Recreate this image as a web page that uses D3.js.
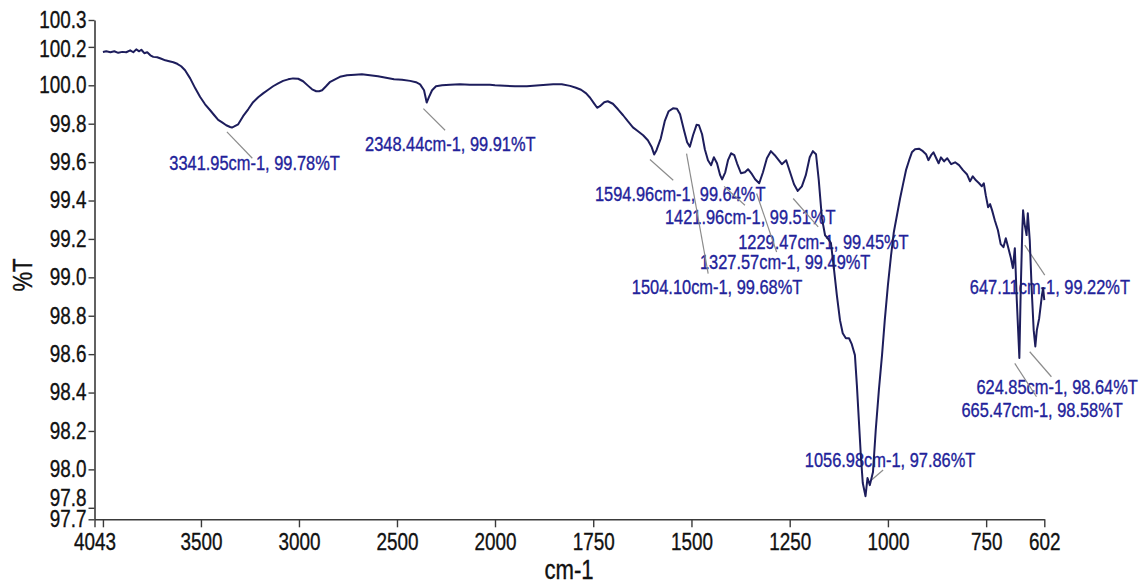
<!DOCTYPE html>
<html>
<head>
<meta charset="utf-8">
<script src="https://cdn.jsdelivr.net/npm/d3@7"></script>
<style>
  html, body { margin: 0; padding: 0; background: #fff; }
  svg { display: block; }
  .narrow { font-family: "Liberation Sans Narrow", "Arial Narrow", "Liberation Sans", Arial, sans-serif; }
</style>
</head>
<body>
<svg id="chart" width="1142" height="583"></svg>
<script>
// FTIR spectrum: wavenumber (cm-1) and transmittance (%T)
const wavenumber = [
  4000, 3983, 3962, 3942, 3922, 3901, 3881, 3861, 3845, 3830, 3815, 3804, 3789, 3774, 3758, 3743,
  3723, 3702, 3682, 3662, 3641, 3621, 3601, 3581, 3555, 3529, 3504, 3479, 3453, 3432, 3412, 3392,
  3371, 3351, 3341.95, 3330, 3310, 3285, 3259, 3234, 3208, 3183, 3157, 3132, 3106, 3081, 3055, 3030,
  3004, 2979, 2953, 2933, 2912, 2897, 2882, 2862, 2843, 2816, 2791, 2755, 2714, 2679, 2638, 2597,
  2556, 2515, 2474, 2433, 2403, 2382, 2362, 2348.44, 2337, 2321, 2301, 2270, 2229, 2179, 2128, 2077,
  2026, 2000, 1975, 1949, 1919, 1886, 1852, 1830, 1809, 1794, 1781, 1768, 1758, 1748, 1740, 1733,
  1722, 1713, 1700, 1687, 1674, 1662, 1649, 1636, 1623, 1611, 1601, 1594.96, 1589, 1578, 1568, 1558,
  1547, 1537, 1529, 1519, 1511, 1504.10, 1496, 1487, 1481, 1473, 1466, 1458, 1450, 1443, 1435, 1427,
  1421.96, 1414, 1407, 1399, 1391, 1384, 1374, 1364, 1356, 1346, 1338, 1327.57, 1318, 1308, 1298, 1288,
  1280, 1270, 1259, 1249, 1239, 1229.47, 1219, 1209, 1199, 1191, 1183, 1176, 1168, 1160, 1153, 1145,
  1137, 1130, 1122, 1115, 1107, 1099, 1092, 1084, 1079, 1074, 1069, 1064, 1056.98, 1052, 1046, 1038,
  1031, 1023, 1015, 1008, 1000, 992, 985, 977, 969, 962, 954, 946, 939, 931, 921, 911,
  903, 897, 890, 884, 877, 871, 865, 857, 849, 839, 829, 819, 809, 799, 791, 784,
  776, 768, 761, 756, 751, 745, 740, 735, 728, 720, 713, 706, 700, 694, 687, 682,
  677, 672, 665.47, 662, 658, 656, 652, 647.11, 644, 639, 634, 629, 624.85, 621, 615, 608,
  605, 602
];
const transmittance = [
  100.173, 100.177, 100.172, 100.177, 100.169, 100.174, 100.172, 100.182, 100.172, 100.187, 100.177, 100.185, 100.167, 100.172, 100.156, 100.148,
  100.146, 100.138, 100.130, 100.125, 100.120, 100.112, 100.099, 100.078, 100.036, 99.984, 99.939, 99.901, 99.870, 99.844, 99.820, 99.807,
  99.792, 99.783, 99.78, 99.786, 99.797, 99.839, 99.875, 99.912, 99.938, 99.958, 99.977, 99.995, 100.010, 100.023, 100.031, 100.036,
  100.034, 100.021, 99.997, 99.979, 99.969, 99.969, 99.974, 99.995, 100.016, 100.031, 100.044, 100.052, 100.055, 100.057, 100.052, 100.047,
  100.039, 100.031, 100.029, 100.023, 100.016, 100.005, 99.974, 99.91, 99.938, 99.974, 99.995, 100.000, 100.003, 100.005, 100.003, 100.003,
  100.003, 100.000, 99.997, 99.995, 99.995, 100.000, 100.005, 100.005, 99.997, 99.987, 99.977, 99.958, 99.935, 99.906, 99.883, 99.891,
  99.912, 99.917, 99.904, 99.875, 99.844, 99.813, 99.781, 99.761, 99.740, 99.714, 99.677, 99.64, 99.662, 99.724, 99.813, 99.865,
  99.880, 99.878, 99.849, 99.766, 99.703, 99.68, 99.740, 99.794, 99.792, 99.745, 99.667, 99.610, 99.584, 99.625, 99.594, 99.532,
  99.51, 99.547, 99.610, 99.646, 99.636, 99.594, 99.542, 99.547, 99.563, 99.537, 99.511, 99.49, 99.547, 99.620, 99.657, 99.636,
  99.615, 99.589, 99.610, 99.547, 99.485, 99.45, 99.474, 99.532, 99.625, 99.657, 99.641, 99.506, 99.308, 99.219, 99.203, 99.178,
  99.037, 98.907, 98.777, 98.709, 98.683, 98.683, 98.652, 98.595, 98.439, 98.257, 98.075, 97.929, 97.86, 97.955, 97.918, 97.986,
  98.205, 98.413, 98.595, 98.777, 98.959, 99.115, 99.235, 99.323, 99.412, 99.480, 99.558, 99.610, 99.651, 99.667, 99.670, 99.657,
  99.641, 99.610, 99.636, 99.651, 99.620, 99.594, 99.625, 99.604, 99.620, 99.589, 99.599, 99.584, 99.558, 99.537, 99.500, 99.526,
  99.505, 99.490, 99.474, 99.490, 99.428, 99.365, 99.381, 99.350, 99.297, 99.245, 99.173, 99.157, 99.204, 99.157, 99.100, 99.048,
  99.152, 98.881, 98.58, 98.933, 99.245, 99.349, 99.276, 99.22, 99.334, 99.193, 98.933, 98.725, 98.64, 98.725, 98.787, 98.907,
  98.944, 98.881
];

// Picked peaks
const peakWavenumber = [3341.95, 2348.44, 1594.96, 1504.10, 1421.96, 1327.57, 1229.47, 1056.98, 665.47, 647.11, 624.85];
const peakTransmittance = [99.78, 99.91, 99.64, 99.68, 99.51, 99.49, 99.45, 97.86, 98.58, 99.22, 98.64];

// Axis ticks
const xTickValues = [4043, 4000, 3500, 3000, 2500, 2000, 1750, 1500, 1250, 1000, 750, 602];
const xTickLabels = ["4043", "", "3500", "3000", "2500", "2000", "1750", "1500", "1250", "1000", "750", "602"];
const yTickValues = [97.74, 97.8, 98.0, 98.2, 98.4, 98.6, 98.8, 99.0, 99.2, 99.4, 99.6, 99.8, 100.0, 100.2, 100.34];

// Label placement relative to each peak: text origin and leader line ends (px)
const peakLabelLayout = [
  { tx: -62.6, ty: 42.7, x1: -5, y1: 4.4, x2: 20.4, y2: 30.7 },
  { tx: -61.6, ty: 48, x1: -3.3, y1: 6, x2: 18.4, y2: 27.7 },
  { tx: -59.2, ty: 46.1, x1: -4.2, y1: 5.1, x2: 19.1, y2: 25.8 },
  { tx: -58, ty: 147, x1: -3.3, y1: 6.8, x2: 18.3, y2: 126.8 },
  { tx: -57.2, ty: 44.6, x1: 2, y1: 7, x2: 22.8, y2: 25.9 },
  { tx: -59.3, ty: 85.7, x1: -2.6, y1: 10.3, x2: 17.4, y2: 68.7 },
  { tx: -59.6, ty: 58, x1: -4.6, y1: 7.6, x2: 20.4, y2: 36 },
  { tx: -60.7, ty: -29.2, x1: 6, y1: -16.2, x2: 17.6, y2: -26.2 },
  { tx: -57.9, ty: 59.1, x1: -4.6, y1: 5.4, x2: 17.1, y2: 38.8 },
  { tx: -56.8, ty: 58.8, x1: -1.8, y1: 10.1, x2: 18.2, y2: 40.1 },
  { tx: -58.9, ty: 47.3, x1: -5.6, y1: 5.3, x2: 16.1, y2: 30.3 }
];

const svg = d3.select("#chart");

// Condensed lettering: squeeze each label to a narrow-face width
const NARROW = 0.82;
function condense(sel, k = NARROW) {
  sel.each(function () {
    const len = this.getComputedTextLength();
    if (len > 0) {
      d3.select(this)
        .attr("textLength", (len * k).toFixed(2))
        .attr("lengthAdjust", "spacingAndGlyphs");
    }
  });
}

// Wavenumber axis is expanded 2x below 2000 cm-1
const x = d3.scaleLinear().domain([4043, 2000, 602]).range([94.5, 495, 1044.3]);
const y = d3.scaleLinear().domain([97.74, 100.34]).range([519.3, 20]);

const axisColor = "#3a3a3a";

// Peak labels
const labels = svg.append("g").attr("class", "narrow");
peakWavenumber.forEach((wn, i) => {
  const px = x(wn), py = y(peakTransmittance[i]);
  const L = peakLabelLayout[i];
  labels.append("text")
    .attr("x", px + L.tx)
    .attr("y", py + L.ty)
    .attr("font-size", 20)
    .attr("fill", "#22229a")
    .attr("stroke", "#22229a")
    .attr("stroke-width", 0.35)
    .text(`${wn.toFixed(2)}cm-1, ${peakTransmittance[i].toFixed(2)}%T`);
});
condense(labels.selectAll("text"));

// Leader lines
const leaders = svg.append("g");
peakWavenumber.forEach((wn, i) => {
  const px = x(wn), py = y(peakTransmittance[i]);
  const L = peakLabelLayout[i];
  leaders.append("line")
    .attr("x1", px + L.x1).attr("y1", py + L.y1)
    .attr("x2", px + L.x2).attr("y2", py + L.y2)
    .attr("stroke", "#8c8c8c")
    .attr("stroke-width", 1.2);
});

// Spectrum trace
const line = d3.line()
  .x((d, i) => x(wavenumber[i]))
  .y((d, i) => y(transmittance[i]));
svg.append("path")
  .datum(wavenumber)
  .attr("d", line)
  .attr("fill", "none")
  .attr("stroke", "#1d1d5c")
  .attr("stroke-width", 2)
  .attr("stroke-linejoin", "round");

// Axes
const xAxis = d3.axisBottom(x)
  .tickValues(xTickValues)
  .tickFormat((d, i) => xTickLabels[i])
  .tickSizeInner(8).tickSizeOuter(0).tickPadding(6);
const gx = svg.append("g")
  .attr("class", "narrow")
  .attr("transform", "translate(0,519.3)")
  .call(xAxis);

const yAxis = d3.axisLeft(y)
  .tickValues(yTickValues)
  .tickFormat(d3.format(".1f"))
  .tickSizeInner(6).tickSizeOuter(0).tickPadding(2);
const gy = svg.append("g")
  .attr("class", "narrow")
  .attr("transform", "translate(94.5,0)")
  .call(yAxis);

[gx, gy].forEach(g => {
  g.attr("font-family", null);
  g.selectAll("path.domain").attr("stroke", axisColor).attr("stroke-width", 1.6);
  g.selectAll(".tick line").attr("stroke", axisColor).attr("stroke-width", 1.4);
  g.selectAll(".tick text")
    .attr("font-size", 23)
    .attr("fill", "#111")
    .attr("stroke", "#111")
    .attr("stroke-width", 0.35);
  condense(g.selectAll(".tick text"));
});

// Crowded end labels sit slightly apart from their ticks
gy.selectAll(".tick text")
  .attr("dy", d => d === 97.8 ? "-0.1em" : d === 100.2 ? "0.42em" : "0.32em");

// Axis titles
const xTitle = svg.append("text")
  .attr("class", "narrow")
  .attr("x", 569).attr("y", 579)
  .attr("text-anchor", "middle")
  .attr("font-size", 27)
  .attr("fill", "#111")
  .attr("stroke", "#111")
  .attr("stroke-width", 0.35)
  .text("cm-1");

const yTitle = svg.append("text")
  .attr("class", "narrow")
  .attr("transform", "translate(32,275) rotate(-90)")
  .attr("text-anchor", "middle")
  .attr("font-size", 27)
  .attr("fill", "#111")
  .attr("stroke", "#111")
  .attr("stroke-width", 0.35)
  .text("%T");
condense(xTitle);
condense(yTitle);
</script>
</body>
</html>
